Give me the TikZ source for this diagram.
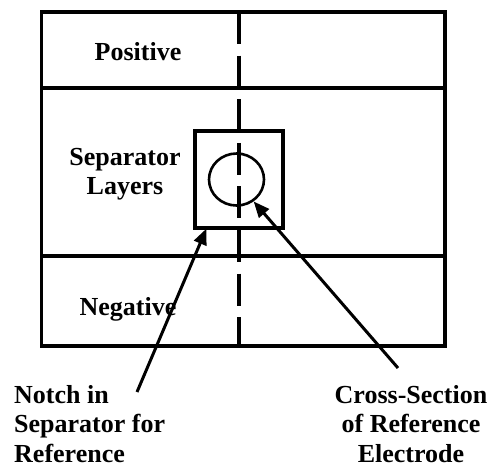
\documentclass[tikz,border=0pt]{standalone}
\usepackage{fontspec}
\setmainfont{Liberation Serif}
\usetikzlibrary{shapes.geometric,arrows.meta}
\tikzset{
  cellline/.style={line width=3.2pt},
  lbltext/.style={font=\fontsize{26}{29.5}\selectfont\bfseries, inner sep=0pt},
  pointer/.style={line width=3pt, -{Triangle[length=16pt,width=13pt]}},
}

\begin{document}
\begin{tikzpicture}[x=1pt,y=-1pt]
    \useasboundingbox (0,0) rectangle (497,467);

    \draw[cellline] (41.5,12) rectangle (445,346);
    \draw[cellline] (41.5,88) -- (445,88);
    \draw[cellline] (41.5,256) -- (445,256);
    \draw[cellline, dash pattern=on 32pt off 11.6pt] (239,12) -- (239,346);

    \node[draw, cellline, minimum width=88pt, minimum height=97pt,
      inner sep=0pt] (notch) at (239,179.5) {};
    \node[draw, ellipse, line width=2.6pt, minimum width=55pt,
      minimum height=52pt, inner sep=0pt] (elec) at (236.5,179.5) {};

    \node[lbltext, anchor=base] (pos) at (138,60) {Positive};
    \node[lbltext, align=center] (sep) at (125,174)
      {Separator\\Layers};
    \node[lbltext, anchor=base] (neg) at (128,315) {Negative};

    \node[lbltext, align=left, anchor=north west] (notchtxt) at (14,385)
      {Notch in\\Separator for\\Reference};
    \node[lbltext, align=center, anchor=north] (electxt) at (411,385)
      {Cross-Section\\of Reference\\Electrode};

    \coordinate (notchtail) at (137,392);
    \coordinate (notchtip) at ([xshift=13pt,yshift=1pt]notch.south west);
    \coordinate (electail) at (398,368);
    \draw[pointer] (notchtail) -- (notchtip);
    \draw[pointer] (electail) -- (elec.-52);
  \end{tikzpicture}
\end{document}
